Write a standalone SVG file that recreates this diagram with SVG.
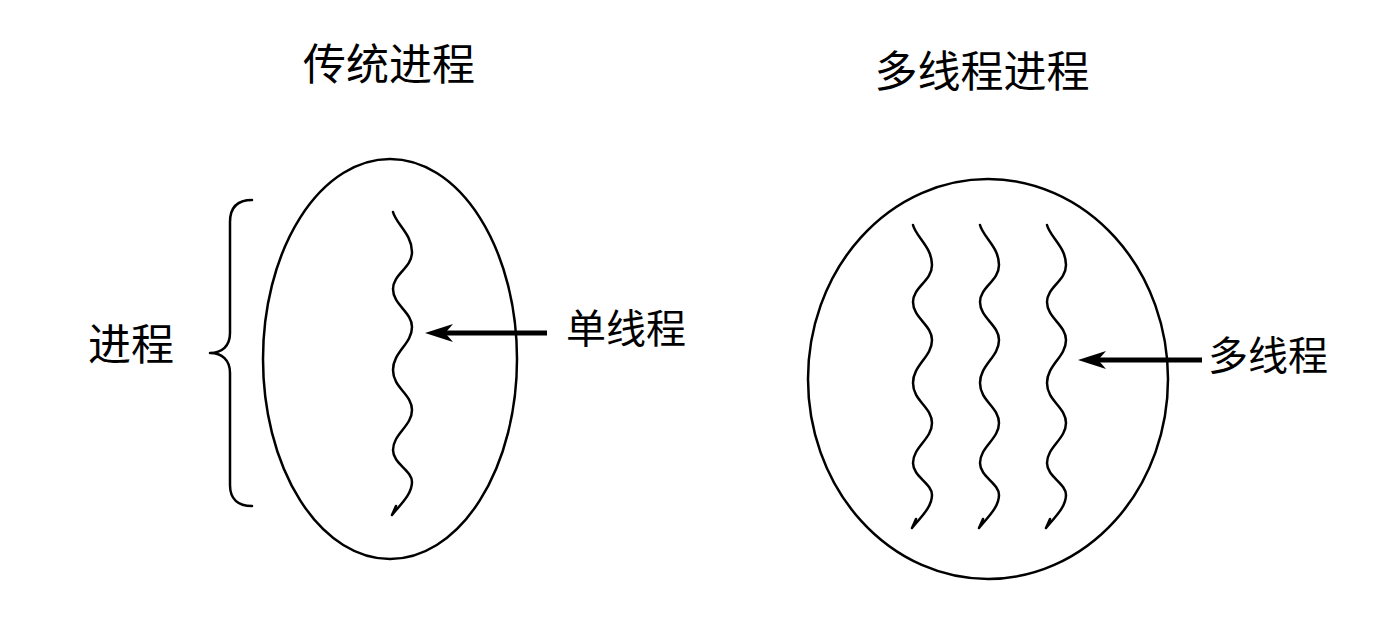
<svg xmlns="http://www.w3.org/2000/svg" xmlns:xlink="http://www.w3.org/1999/xlink" width="1395" height="640" viewBox="0 0 1395 640">
  <style>
    .ln { fill: none; stroke: #000; stroke-width: 2.5; stroke-linecap: round; stroke-linejoin: round; }
    .txt { font-family: "Noto Sans CJK SC", "Noto Sans", sans-serif; fill: #000; text-anchor: middle; }
    .title { font-size: 43px; }
    .lbl { font-size: 40px; }
    .big { font-size: 43px; }
    .shaft { stroke: #000; stroke-width: 5; fill: none; }
    .head { fill: #000; stroke: none; }
  </style>
  <defs>
    <path id="wave" class="ln" d="M 0 0 C 3 12, 19 22, 19 40 C 19 56, 0 62, 0 77 C 0 93, 19 100, 19 115 C 19 132, 0 140, 0 158 C 0 176, 19 182, 19 198 C 19 214, 0 222, 0 238 C 0 252, 19 258, 19 270 C 19 282, 8 292, -1 303 M -1 303 L 3 294"/>
    <path id="arrowhead" class="head" d="M 0 0 L 28 -9 Q 22 -2 20 0 Q 22 2 28 9 Z"/>
  </defs>

  <g id="title-left"><text class="txt title" x="389" y="80">传统进程</text></g>
  <g id="title-right"><text class="txt title" x="982" y="87">多线程进程</text></g>

  <g id="traditional-process">
    <ellipse class="ln" cx="390" cy="359" rx="127" ry="200"/>
    <use xlink:href="#wave" x="393" y="212"/>
  </g>

  <g id="brace-process">
    <path class="ln" d="M 252 200 C 238 200, 230 207, 230 222 L 230 333 C 230 346, 222 353, 210 353 C 222 353, 230 360, 230 373 L 230 485 C 230 499, 238 506, 252 506"/>
    <text class="txt big" x="131" y="360">进程</text>
  </g>

  <g id="multithread-process">
    <ellipse class="ln" cx="988" cy="379" rx="180" ry="200"/>
    <use xlink:href="#wave" x="913" y="225"/>
    <use xlink:href="#wave" x="980" y="225"/>
    <use xlink:href="#wave" x="1047" y="225"/>
  </g>

  <g id="label-single"><text class="txt lbl" x="626" y="343">单线程</text></g>
  <g id="label-multi"><text class="txt lbl" x="1268" y="370">多线程</text></g>

  <g id="connectors">
    <line class="shaft" x1="445" y1="333" x2="547" y2="333"/>
    <use xlink:href="#arrowhead" x="425" y="333"/>
    <line class="shaft" x1="1098" y1="360" x2="1202" y2="360"/>
    <use xlink:href="#arrowhead" x="1078" y="360"/>
  </g>
</svg>
